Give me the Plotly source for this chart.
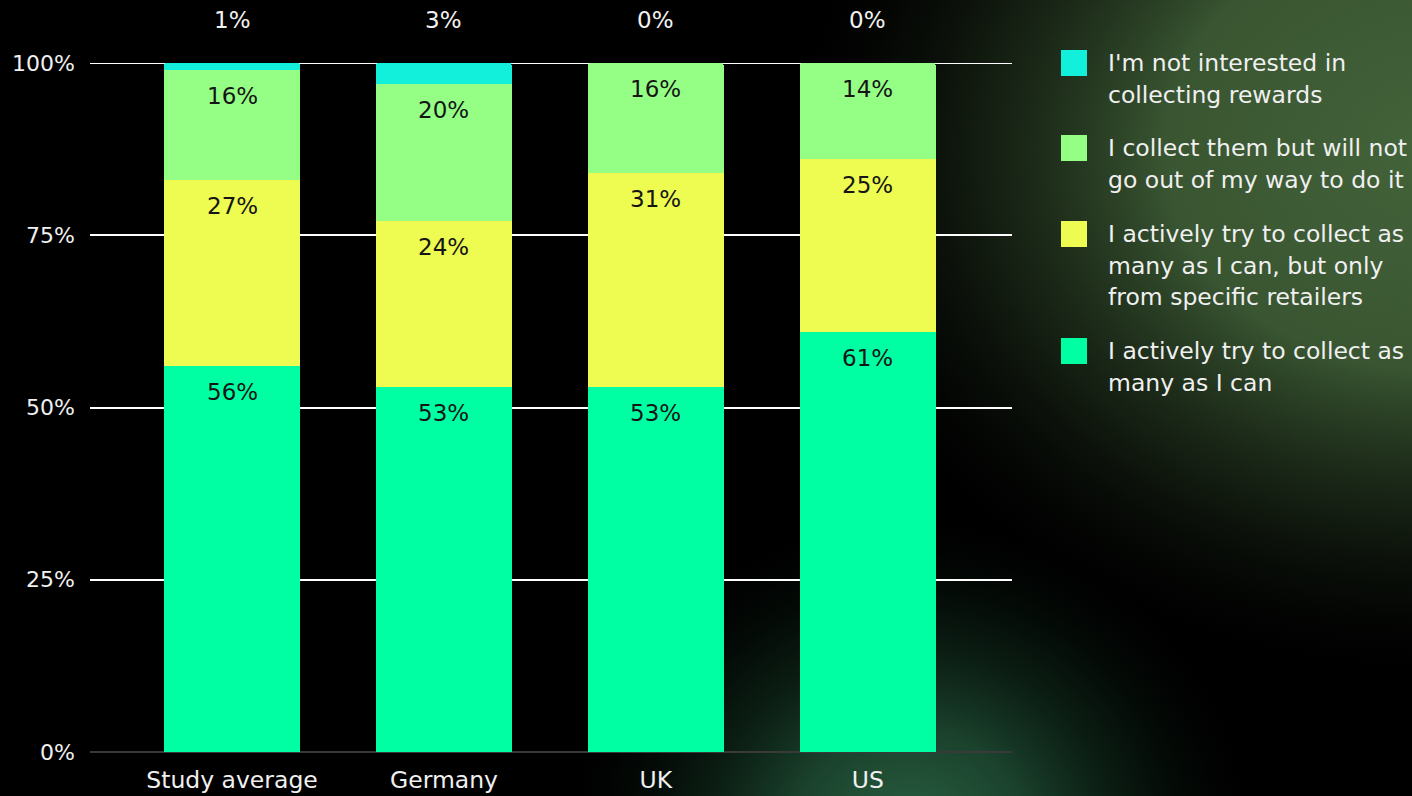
import base64
import plotly.graph_objects as go

# Survey: attitudes toward collecting loyalty rewards, by market
categories = ["Study average", "Germany", "UK", "US"]

series_names = [
    "I actively try to collect as many as I can",
    "I actively try to collect as many as I can, but only from specific retailers",
    "I collect them but will not go out of my way to do it",
    "I'm not interested in collecting rewards",
]
legend_lines = [
    ["I actively try to collect as", "many as I can"],
    ["I actively try to collect as", "many as I can, but only", "from specific retailers"],
    ["I collect them but will not", "go out of my way to do it"],
    ["I'm not interested in", "collecting rewards"],
]
series_colors = ["#00ffa3", "#eefb50", "#94ff84", "#12f0dc"]

active_all = [56, 53, 53, 61]
active_specific = [27, 24, 31, 25]
casual = [16, 20, 16, 14]
not_interested = [1, 3, 0, 0]
series_values = [active_all, active_specific, casual, not_interested]

y_ticks = [0, 25, 50, 75, 100]
y_tick_labels = ["0%", "25%", "50%", "75%", "100%"]

FONT = "DejaVu Sans"
W, H = 1412, 796
ML, MR, MT, MB = 90, 400, 63, 44
PW, PH = W - ML - MR, H - MT - MB

# Background: black with soft green glows
svg = f"""<svg xmlns="http://www.w3.org/2000/svg" width="{W}" height="{H}" viewBox="0 0 {W} {H}" preserveAspectRatio="none">
<defs>
<radialGradient id="tr" cx="0.5" cy="0.5" r="0.5">
<stop offset="0" stop-color="#43633a" stop-opacity="1"/>
<stop offset="0.42" stop-color="#3c5a34" stop-opacity="0.95"/>
<stop offset="0.72" stop-color="#22331e" stop-opacity="0.55"/>
<stop offset="1" stop-color="#0c120b" stop-opacity="0"/>
</radialGradient>
<radialGradient id="bm" cx="0.5" cy="0.5" r="0.5">
<stop offset="0" stop-color="#2a6444" stop-opacity="1"/>
<stop offset="0.35" stop-color="#1f4d34" stop-opacity="0.85"/>
<stop offset="0.7" stop-color="#0f2a1b" stop-opacity="0.45"/>
<stop offset="1" stop-color="#061009" stop-opacity="0"/>
</radialGradient>
</defs>
<rect width="{W}" height="{H}" fill="#000000"/>
<ellipse cx="1430" cy="150" rx="630" ry="520" fill="url(#tr)"/>
<ellipse cx="910" cy="840" rx="340" ry="320" fill="url(#bm)"/>
</svg>"""
bg_src = "data:image/svg+xml;base64," + base64.b64encode(svg.encode()).decode()

fig = go.Figure()

for name, vals, color in zip(series_names, series_values, series_colors):
    fig.add_trace(go.Bar(
        x=categories, y=vals, name=name,
        marker=dict(color=color, line=dict(width=0)),
        width=0.64, showlegend=False, hoverinfo="x+y+name",
    ))

annotations = []
# Value labels: inside segments for the lower series, above the plot for the top one
cum = [0] * len(categories)
for si, vals in enumerate(series_values):
    for ci, v in enumerate(vals):
        cum[ci] += v
        if si < len(series_values) - 1:
            annotations.append(dict(
                x=categories[ci], y=cum[ci], xref="x", yref="y",
                text=f"{v}%", showarrow=False, yanchor="middle", yshift=-26,
                font=dict(family=FONT, size=23, color="#151515"),
            ))
        else:
            annotations.append(dict(
                x=categories[ci], y=cum[ci], xref="x", yref="y",
                text=f"{v}%", showarrow=False, yanchor="middle", yshift=43,
                font=dict(family=FONT, size=23, color="#f2f2f2"),
            ))

shapes = []
def px_x(p):
    return (p - ML) / PW
def px_y(p):
    return 1 - (p - MT) / PH

# Top gridline at 100%
shapes.append(dict(
    type="line", xref="paper", yref="y", x0=0, x1=1, y0=100, y1=100,
    line=dict(color="#ffffff", width=2), layer="below",
))

# Custom legend, top entry first
item_tops = [63, 148, 234, 351]
line_gap = 31.5
for k, idx in enumerate(reversed(range(len(series_names)))):
    y0 = item_tops[k]
    shapes.append(dict(
        type="rect", xref="paper", yref="paper",
        x0=px_x(1061), x1=px_x(1087), y0=px_y(y0 - 13), y1=px_y(y0 + 13),
        fillcolor=series_colors[idx], line=dict(width=0), layer="above",
    ))
    for li, line in enumerate(legend_lines[idx]):
        annotations.append(dict(
            x=px_x(1106), y=px_y(y0 + li * line_gap), xref="paper", yref="paper",
            text=line, showarrow=False, xanchor="left", yanchor="middle",
            font=dict(family=FONT, size=23.5, color="#f0f0f0"),
        ))

fig.update_layout(
    width=W, height=H, autosize=False,
    margin=dict(l=ML, r=MR, t=MT, b=MB, pad=0, autoexpand=False),
    paper_bgcolor="#000000", plot_bgcolor="rgba(0,0,0,0)",
    barmode="stack", barcornerradius=3,
    font=dict(family=FONT, color="#f0f0f0"),
    annotations=annotations, shapes=shapes,
    images=[dict(
        source=bg_src, xref="paper", yref="paper",
        x=-ML / PW, y=1 + MT / PH, sizex=W / PW, sizey=H / PH,
        xanchor="left", yanchor="top", sizing="stretch", layer="below",
    )],
    xaxis=dict(
        type="category", range=[-0.67, 3.68], showgrid=False, zeroline=False,
        showline=False, ticks="", ticklabelstandoff=11, automargin=False,
        tickfont=dict(family=FONT, size=23.5, color="#f0f0f0"),
    ),
    yaxis=dict(
        range=[0, 100], tickvals=y_ticks, ticktext=y_tick_labels,
        showgrid=True, gridcolor="#ffffff", gridwidth=2,
        zeroline=True, zerolinecolor="#3a3a3a", zerolinewidth=2,
        ticks="", ticklabelstandoff=14, automargin=False,
        tickfont=dict(family=FONT, size=22, color="#f0f0f0"),
    ),
)

fig.write_html("out.html")
